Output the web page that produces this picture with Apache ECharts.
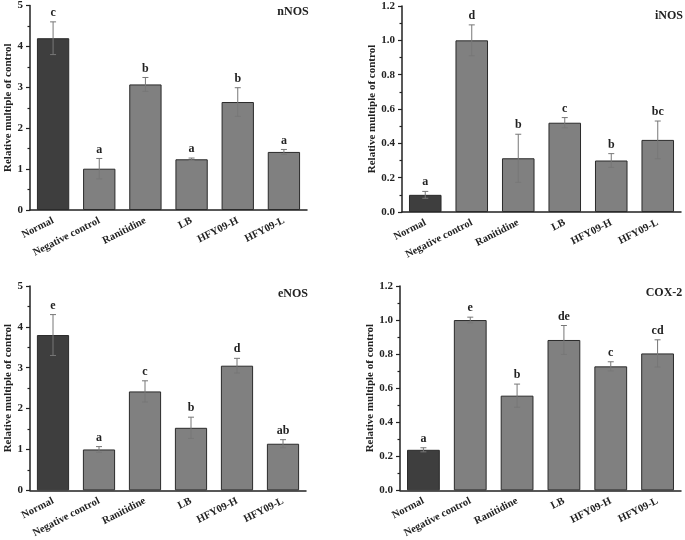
<!DOCTYPE html>
<html>
<head>
<meta charset="utf-8">
<script src="https://cdn.jsdelivr.net/npm/echarts@6/dist/echarts.min.js"></script>
<style>html,body{margin:0;padding:0;background:#fff;}#c{width:685px;height:540px;}</style>
</head>
<body>
<div id="c"></div>
<script>
var categories = ['Normal', 'Negative control', 'Ranitidine', 'LB', 'HFY09-H', 'HFY09-L'];

var nNOS_values = [4.20, 1.01, 3.07, 1.24, 2.64, 1.42];
var nNOS_errors = [0.40, 0.25, 0.17, 0.03, 0.35, 0.06];
var nNOS_letters = ['c', 'a', 'b', 'a', 'b', 'a'];

var iNOS_values = [0.10, 1.00, 0.313, 0.52, 0.30, 0.42];
var iNOS_errors = [0.02, 0.09, 0.14, 0.03, 0.04, 0.11];
var iNOS_letters = ['a', 'd', 'b', 'c', 'b', 'bc'];

var eNOS_values = [3.80, 1.00, 2.42, 1.53, 3.05, 1.14];
var eNOS_errors = [0.50, 0.07, 0.26, 0.26, 0.18, 0.10];
var eNOS_letters = ['e', 'a', 'c', 'b', 'd', 'ab'];

var COX2_values = [0.238, 1.00, 0.556, 0.883, 0.728, 0.804];
var COX2_errors = [0.012, 0.017, 0.068, 0.085, 0.027, 0.08];
var COX2_letters = ['a', 'e', 'b', 'de', 'c', 'cd'];

var panelTitles = ['nNOS', 'iNOS', 'eNOS', 'COX-2'];
var yMax = [5, 1.2, 5, 1.2];
var yInterval = [1, 0.2, 1, 0.2];
var yDecimals = [0, 1, 0, 1];
var yAxisName = 'Relative multiple of control';

var panels = [
  {v: nNOS_values, e: nNOS_errors, l: nNOS_letters},
  {v: iNOS_values, e: iNOS_errors, l: iNOS_letters},
  {v: eNOS_values, e: eNOS_errors, l: eNOS_letters},
  {v: COX2_values, e: COX2_errors, l: COX2_letters}
];

var grids = [
  {left: 30, top: 5, width: 277, height: 205},
  {left: 402, top: 6, width: 279, height: 206},
  {left: 30, top: 286, width: 276, height: 206},
  {left: 400, top: 286, width: 281, height: 207}
];
var nameGaps = [15, 24, 15, 24];
var titlePos = [{x: 293, y: 12}, {x: 669, y: 16}, {x: 293, y: 294}, {x: 664, y: 293}];

var FONT = '"Liberation Serif", "Times New Roman", serif';
var TXT = '#222';

var option = {
  animation: false,
  backgroundColor: '#fff',
  grid: grids,
  graphic: panelTitles.map(function (t, i) {
    return {
      type: 'text', x: titlePos[i].x, y: titlePos[i].y, z: 20,
      style: {text: t, align: 'center', verticalAlign: 'middle', font: 'bold 12px ' + FONT, fill: TXT}
    };
  }),
  xAxis: [],
  yAxis: [],
  series: []
};

panels.forEach(function (p, i) {
  option.xAxis.push({
    type: 'category', gridIndex: i, data: categories,
    axisLine: {lineStyle: {color: '#222', width: 1.5}},
    axisTick: {alignWithLabel: true, length: 4, lineStyle: {color: '#222', width: 1.2}},
    axisLabel: {interval: 0, rotate: 27, margin: 10, fontFamily: FONT, fontWeight: 'bold', fontSize: 10.5, color: TXT}
  });
  option.xAxis.push({
    type: 'category', gridIndex: i, data: categories, position: 'bottom',
    axisLine: {show: false},
    axisTick: {alignWithLabel: false, length: 2.5, lineStyle: {color: '#222', width: 1.2}},
    axisLabel: {show: false}
  });
  option.yAxis.push({
    type: 'value', gridIndex: i, min: 0, max: yMax[i], interval: yInterval[i],
    name: yAxisName, nameLocation: 'middle', nameGap: nameGaps[i], nameRotate: 90,
    nameTextStyle: {fontFamily: FONT, fontWeight: 'bold', fontSize: 11, color: TXT},
    axisLine: {show: true, lineStyle: {color: '#222', width: 1.5}},
    axisTick: {show: true, length: 4, lineStyle: {color: '#222', width: 1.2}},
    minorTick: {show: true, splitNumber: 2, length: 2.5, lineStyle: {color: '#222', width: 1.2}},
    splitLine: {show: false},
    axisLabel: {margin: 7, fontFamily: FONT, fontWeight: 'bold', fontSize: 11, color: TXT,
      formatter: (function (d) { return function (v) { return v.toFixed(d); }; })(yDecimals[i])}
  });
  option.series.push({
    type: 'bar', xAxisIndex: 2 * i, yAxisIndex: i, barWidth: '70%',
    data: p.v.map(function (v, k) {
      return {value: v, itemStyle: {color: k === 0 ? '#3e3e3e' : '#808080'}};
    }),
    itemStyle: {borderColor: '#2a2a2a', borderWidth: 1}
  });
  option.series.push({
    type: 'custom', xAxisIndex: 2 * i, yAxisIndex: i, z: 10,
    data: p.v.map(function (v, k) { return [k, v, p.e[k]]; }),
    renderItem: function (params, api) {
      var x = api.value(0), v = api.value(1), e = api.value(2);
      var letter = p.l[params.dataIndex];
      var top = api.coord([x, v + e]);
      var bot = api.coord([x, v - e]);
      var cap = 3;
      var st = {stroke: '#777', lineWidth: 1};
      return {
        type: 'group',
        children: [
          {type: 'line', shape: {x1: top[0], y1: top[1], x2: bot[0], y2: bot[1]}, style: st},
          {type: 'line', shape: {x1: top[0] - cap, y1: top[1], x2: top[0] + cap, y2: top[1]}, style: st},
          {type: 'line', shape: {x1: bot[0] - cap, y1: bot[1], x2: bot[0] + cap, y2: bot[1]}, style: st},
          {type: 'text', style: {text: letter, x: top[0], y: top[1] - 3, align: 'center', verticalAlign: 'bottom',
            font: 'bold 12px ' + FONT, fill: TXT}}
        ]
      };
    }
  });
});

var chart = echarts.init(document.getElementById('c'), null, {renderer: 'canvas'});
chart.setOption(option);
</script>
</body>
</html>
